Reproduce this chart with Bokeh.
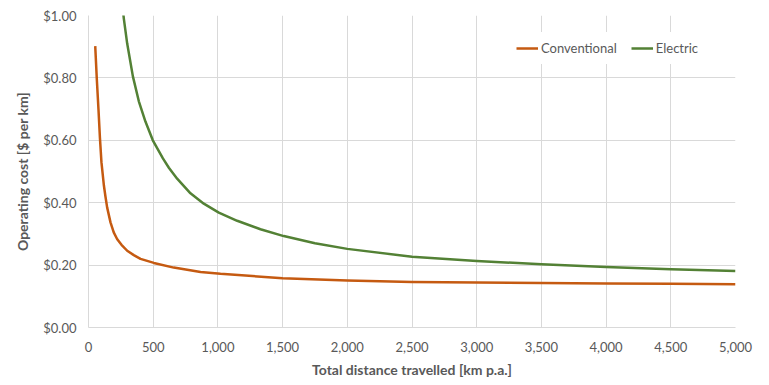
from bokeh.plotting import figure
from bokeh.models import Range1d, NumeralTickFormatter, FixedTicker, Legend, LegendItem
from bokeh.embed import file_html
from bokeh.resources import INLINE

# Data
conv_km = [52, 64, 77, 88, 100, 119, 131, 144, 170, 195, 222, 255, 299, 350, 402, 505, 659, 866, 1020,
           1500, 2000, 2500, 3000, 3500, 4000, 4500, 5000]
conv_cost = [0.902, 0.798, 0.70, 0.61, 0.53, 0.455, 0.42, 0.385, 0.337, 0.305, 0.283, 0.265, 0.246, 0.232,
             0.220, 0.207, 0.192, 0.178, 0.172, 0.158, 0.151, 0.146, 0.1445, 0.143, 0.141, 0.140, 0.139]

elec_km = [255, 273, 299, 343, 389, 440, 497, 575, 621, 685, 788, 891, 1007, 1149, 1329, 1509, 1750,
           2000, 2500, 3000, 3500, 4000, 4500, 5000]
elec_cost = [1.06, 0.99, 0.910, 0.805, 0.725, 0.660, 0.600, 0.542, 0.512, 0.477, 0.430, 0.397, 0.368, 0.342,
             0.315, 0.293, 0.270, 0.252, 0.227, 0.213, 0.203, 0.194, 0.187, 0.181]

x_ticks = [0, 500, 1000, 1500, 2000, 2500, 3000, 3500, 4000, 4500, 5000]
y_ticks = [0.0, 0.2, 0.4, 0.6, 0.8, 1.0]

series_names = ["Conventional", "Electric"]
series_colors = ["#C55A11", "#538135"]

FONT = "Lato"
GREY = "#595959"

p = figure(width=753, height=380, output_backend="svg", toolbar_location=None,
           x_range=Range1d(0, 5000), y_range=Range1d(0, 1))
p.min_border_left = 88
p.min_border_right = 18
p.min_border_top = 15
p.min_border_bottom = 51
p.outline_line_color = None
p.background_fill_color = "white"
p.border_fill_color = "white"

r1 = p.line(conv_km, conv_cost, line_color=series_colors[0], line_width=2.5, line_join="round")
r2 = p.line(elec_km, elec_cost, line_color=series_colors[1], line_width=2.5, line_join="round")

p.xaxis.ticker = FixedTicker(ticks=x_ticks)
p.yaxis.ticker = FixedTicker(ticks=y_ticks)
p.xaxis.formatter = NumeralTickFormatter(format="0,0")
p.yaxis.formatter = NumeralTickFormatter(format="$0.00")

for ax in (p.xaxis[0], p.yaxis[0]):
    ax.major_tick_line_color = None
    ax.minor_tick_line_color = None
    ax.major_tick_out = 0
    ax.major_tick_in = 0
    ax.axis_line_color = "#D9D9D9"
    ax.major_label_text_font = FONT
    ax.major_label_text_font_size = "13px"
    ax.major_label_text_color = GREY
    ax.axis_label_text_font = FONT
    ax.axis_label_text_font_size = "14px"
    ax.axis_label_text_font_style = "bold"
    ax.axis_label_text_color = GREY

p.xaxis.axis_label = "Total distance travelled [km p.a.]"
p.yaxis.axis_label = "Operating cost [$ per km]"
p.xaxis.major_label_standoff = 14
p.yaxis.major_label_standoff = 12
p.xaxis.axis_label_standoff = 6
p.yaxis.axis_label_standoff = 9

p.xgrid.grid_line_color = "#D9D9D9"
p.ygrid.grid_line_color = "#D9D9D9"
p.xgrid.ticker = FixedTicker(ticks=x_ticks)
p.ygrid.ticker = FixedTicker(ticks=y_ticks)

legend = Legend(items=[LegendItem(label=series_names[0], renderers=[r1]),
                       LegendItem(label=series_names[1], renderers=[r2])],
                orientation="horizontal", location=(422, 263))
legend.label_text_font = FONT
legend.label_text_font_size = "13px"
legend.label_text_color = GREY
legend.border_line_alpha = 0
legend.background_fill_alpha = 1
legend.glyph_width = 22
legend.label_standoff = 3
legend.spacing = 14
legend.padding = 6
legend.margin = 0
p.add_layout(legend, "center")

open("out.html", "w").write(file_html(p, INLINE))
